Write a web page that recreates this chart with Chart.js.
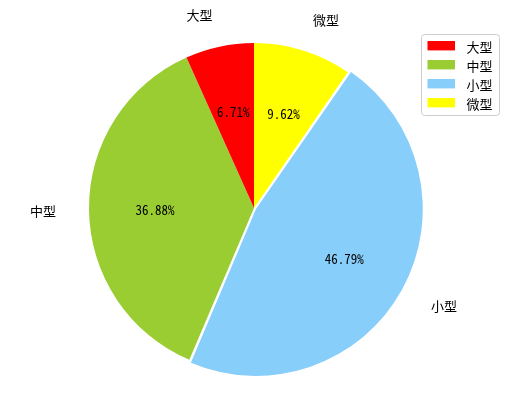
<!DOCTYPE html>
<html>
<head>
<meta charset="utf-8">
<script src="https://cdn.jsdelivr.net/npm/chart.js@4"></script>
<style>
  html, body { margin: 0; padding: 0; background: #fff; }
  #wrap { width: 515px; height: 407px; }
</style>
</head>
<body>
<div id="wrap"><canvas id="myChart"></canvas></div>
<script>
// legend order (as in the original figure)
const categories = ['大型', '中型', '小型', '微型'];
const shares = [6.71, 36.88, 46.79, 9.62];
const colors = ['#ff0000', '#9acd32', '#87cefa', '#ffff00'];
const explode = [0, 0, 9, 0];

// original pie runs counter-clockwise from the top, Chart.js runs clockwise,
// so feed the slices in reverse order
const order = [3, 2, 1, 0];
const FONT = '13px "Noto Sans Mono CJK SC", "Noto Sans CJK SC", sans-serif';

const sliceText = {
  id: 'sliceText',
  afterDatasetsDraw(chart) {
    const ctx = chart.ctx;
    const meta = chart.getDatasetMeta(0);
    const ds = chart.data.datasets[0];
    ctx.save();
    ctx.font = FONT;
    ctx.fillStyle = '#000';
    ctx.textBaseline = 'middle';
    meta.data.forEach((arc, i) => {
      const p = arc.getProps(['x', 'y', 'startAngle', 'endAngle', 'outerRadius', 'circumference'], true);
      const mid = (p.startAngle + p.endAngle) / 2;
      const off = ds.offset[i] || 0;
      const fix = 1 - Math.sin(Math.min(Math.PI, p.circumference));
      const shift = off / 4 * (1 + fix);
      const cx = p.x + Math.cos(mid) * shift;
      const cy = p.y + Math.sin(mid) * shift + 1;
      const r = p.outerRadius;
      // percentage inside
      ctx.textAlign = 'center';
      ctx.fillText(ds.data[i].toFixed(2) + '%', cx + Math.cos(mid) * r * 0.6, cy + Math.sin(mid) * r * 0.6);
      // category label outside
      const lx = cx + Math.cos(mid) * r * 1.2;
      const ly = cy + Math.sin(mid) * r * 1.2;
      ctx.textAlign = Math.cos(mid) < 0 ? 'right' : 'left';
      ctx.fillText(chart.data.labels[i], lx, ly);
    });
    ctx.restore();
  }
};

const boxLegend = {
  id: 'boxLegend',
  afterDraw(chart) {
    const ctx = chart.ctx;
    const x0 = 421.5, y0 = 34.5, w = 78, h = 81;
    ctx.save();
    ctx.beginPath();
    ctx.roundRect(x0, y0, w, h, 3);
    ctx.fillStyle = 'rgba(255,255,255,0.8)';
    ctx.fill();
    ctx.strokeStyle = '#cccccc';
    ctx.lineWidth = 1;
    ctx.stroke();
    ctx.font = FONT;
    ctx.textBaseline = 'middle';
    ctx.textAlign = 'left';
    categories.forEach((c, i) => {
      const cy = 45.7 + i * 19;
      ctx.fillStyle = colors[i];
      ctx.fillRect(427.5, cy - 4.7, 27.5, 9.4);
      ctx.fillStyle = '#000';
      ctx.fillText(c, 466.5, cy + 1);
    });
    ctx.restore();
  }
};

const data = {
  labels: order.map(i => categories[i]),
  datasets: [{
    data: order.map(i => shares[i]),
    backgroundColor: order.map(i => colors[i]),
    offset: order.map(i => explode[i]),
    borderWidth: 0,
    hoverOffset: 0
  }]
};

const config = {
  type: 'pie',
  data: data,
  options: {
    responsive: true,
    maintainAspectRatio: false,
    animation: false,
    events: [],
    radius: 165,
    layout: { padding: { left: 0, right: 7, top: 30, bottom: 21 } },
    plugins: {
      legend: { display: false },
      tooltip: { enabled: false }
    }
  },
  plugins: [sliceText, boxLegend]
};

const myChart = new Chart(document.getElementById('myChart'), config);
</script>
</body>
</html>
